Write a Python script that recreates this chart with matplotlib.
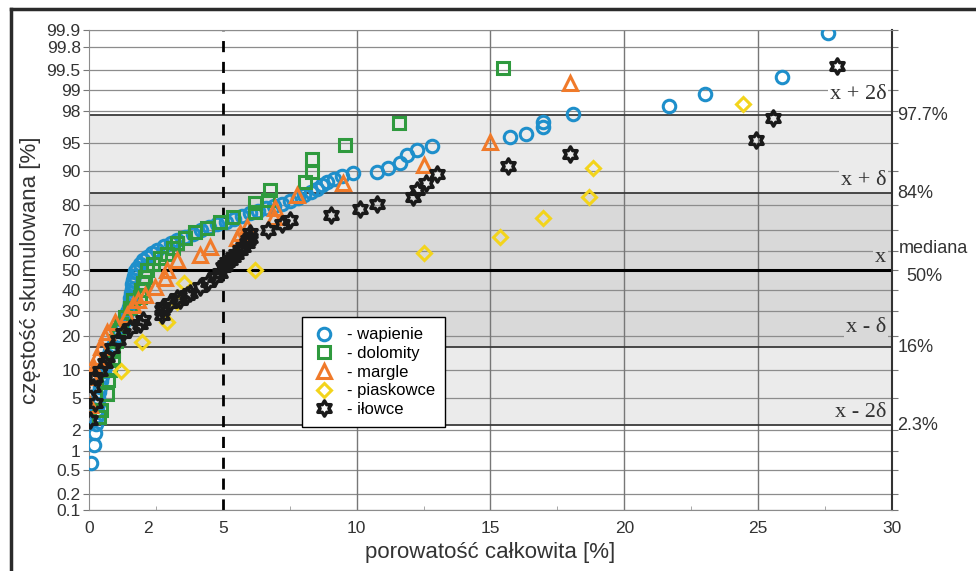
import numpy as np
import matplotlib.pyplot as plt
from matplotlib.path import Path
from matplotlib.lines import Line2D
from statistics import NormalDist

plt.rcParams['font.family'] = ['Liberation Sans', 'DejaVu Sans']

# porosity [%] and cumulative frequency [%]
wap_x = [0.08, 0.2, 0.22, 0.25, 0.28, 0.3, 0.32, 0.35, 0.38, 0.42, 0.46, 0.5, 0.55, 0.6,
         0.65, 0.72, 0.8, 0.88, 0.97, 1.05, 1.13, 1.22, 1.3, 1.37, 1.43, 1.48, 1.52, 1.55,
         1.58, 1.6, 1.62, 1.64, 1.67, 1.72, 1.8, 1.9, 2.0, 2.15, 2.35, 2.55, 2.8, 3.05, 3.3,
         3.6, 3.9, 4.2, 4.5, 4.8, 5.1, 5.4, 5.7, 6.0, 6.3, 6.6, 6.9, 7.2, 7.5, 7.8, 8.05,
         8.3, 8.5, 8.7, 8.9, 9.15, 9.45, 9.87, 10.77, 11.18, 11.63, 11.89, 12.26, 12.82,
         15.74, 16.34, 16.97, 16.97, 18.09, 21.68, 23.03, 25.9, 27.6]
wap_p = [0.66, 1.2, 1.8, 2.4, 3.0, 3.6, 4.2, 5.0, 5.8, 6.7, 7.6, 8.6, 9.6, 10.8,
         12.0, 13.4, 14.8, 16.4, 18.0, 19.8, 21.6, 23.5, 25.5, 27.5, 29.6, 31.8, 34.0, 36.2,
         38.4, 40.6, 42.8, 45.0, 47.2, 49.4, 51.4, 53.4, 55.2, 57.0, 58.8, 60.5, 62.2, 63.8, 65.3,
         66.8, 68.2, 69.6, 71.0, 72.3, 73.5, 74.7, 75.8, 76.8, 77.8, 78.7, 79.6, 80.5, 81.4, 82.3, 83.3,
         84.3, 85.3, 86.3, 87.2, 88.0, 88.8, 89.5, 89.7, 90.6, 91.6, 93.1, 93.9, 94.5,
         95.7, 96.1, 96.8, 97.2, 97.8, 98.3, 98.84, 99.36, 99.89]

dol_x = [0.37, 0.45, 0.67, 0.71, 0.8, 0.9, 0.9, 1.0, 1.08, 1.2, 1.35, 1.53, 1.64, 1.9, 1.95,
         2.02, 2.09, 2.17, 2.4, 2.65, 2.9, 3.14, 3.29, 3.6, 3.96, 4.41, 4.9, 5.38, 6.2, 6.2,
         6.69, 6.77, 8.07, 8.34, 8.34, 9.57, 11.59, 15.48]
dol_p = [2.9, 3.6, 5.6, 7.8, 10.0, 12.5, 15.0, 18.0, 21.9, 24.5, 27.2, 31.2, 34.9, 36.4, 40.0,
         43.3, 46.4, 50.0, 53.0, 56.2, 58.5, 61.2, 63.6, 66.0, 68.8, 70.6, 73.2, 75.3, 77.3, 80.6,
         81.7, 84.9, 87.2, 89.7, 92.4, 94.7, 97.1, 99.54]

mar_x = [0.05, 0.11, 0.2, 0.3, 0.45, 0.6, 0.67, 0.97, 1.42, 1.64, 1.83, 2.09, 2.47, 2.84, 2.92,
         3.29, 4.15, 4.52, 5.53, 5.64, 5.9, 6.9, 6.95, 7.78, 9.5, 12.52, 14.99, 17.98]
mar_p = [4.1, 8.4, 10.5, 13.1, 16.0, 19.4, 21.2, 25.1, 28.1, 32.6, 35.0, 37.5, 41.3, 45.9, 50.0,
         55.1, 57.7, 61.7, 66.0, 68.3, 71.0, 75.3, 78.8, 83.3, 86.9, 91.2, 95.1, 99.2]

pia_x = [1.2, 1.98, 2.92, 3.3, 3.55, 6.2, 12.52, 15.36, 16.97, 18.69, 18.84, 24.45]
pia_p = [9.8, 17.6, 25.1, 34.0, 43.5, 50.0, 58.7, 66.5, 74.9, 82.7, 90.6, 98.4]

ilo_x = [0.04, 0.22, 0.15, 0.22, 0.41, 0.6, 0.67, 0.86, 1.08, 1.27, 1.53, 1.9, 2.02, 2.73, 2.73,
         2.77, 3.03, 3.29, 3.4, 3.66, 3.78, 4.15, 4.45, 4.71, 4.9, 5.0, 5.08, 5.16, 5.27, 5.38,
         5.5, 5.64, 5.77, 5.9, 5.95, 6.02, 6.02, 6.69, 7.21, 7.51, 9.05, 10.13, 10.77, 12.1,
         12.26, 12.6, 13.0, 15.66, 17.98, 24.93, 25.57, 27.96]
ilo_p = [2.65, 4.4, 6.6, 8.4, 9.8, 11.5, 13.1, 15.7, 18.4, 20.8, 22.7, 24.5, 26.0, 28.1, 30.3,
         31.7, 33.5, 36.0, 34.9, 37.4, 38.3, 41.3, 43.8, 46.4, 48.5, 51.5, 52.8, 54.1, 55.5, 56.7,
         58.5, 60.2, 62.0, 63.6, 65.0, 66.0, 68.3, 69.7, 72.4, 74.0, 76.1, 78.4, 80.3, 82.7,
         84.9, 86.9, 89.2, 91.0, 93.3, 95.3, 97.5, 99.57]

yticks = [0.1, 0.2, 0.5, 1, 2, 5, 10, 20, 30, 40, 50, 60, 70, 80, 90, 95, 98, 99, 99.5, 99.8, 99.9]
ytick_labels = ["0.1", "0.2", "0.5", "1", "2", "5", "10", "20", "30", "40", "50", "60", "70",
                "80", "90", "95", "98", "99", "99.5", "99.8", "99.9"]
xticks = [0, 2.2, 5, 10, 15, 20, 25, 30]
xtick_labels = ["0", "2", "5", "10", "15", "20", "25", "30"]

side_levels = [97.7, 84, 16, 2.3]
side_labels = ["97.7%", "84%", "16%", "2.3%"]
sigma_labels = ["x + 2\u03b4", "x + \u03b4", "x", "x - \u03b4", "x - 2\u03b4"]
sigma_levels = [98.84, 87.7, 56.7, 23.1, 3.35]

_nd = NormalDist()


def _ppf(v):
    if not np.isfinite(v):
        return np.nan
    return _nd.inv_cdf(min(max(v, 1e-9), 1 - 1e-9))


def prob_fwd(p):
    return np.vectorize(_ppf, otypes=[float])(np.asarray(p, dtype=float) / 100.0)


def prob_inv(z):
    return np.vectorize(_nd.cdf, otypes=[float])(np.asarray(z, dtype=float)) * 100.0


light = '#ebebeb'
dark = '#d9d9d9'

fig = plt.figure(figsize=(9.76, 5.71), dpi=100)
ax = fig.add_axes([0.0912, 0.1068, 0.8227, 0.8398])
ax.set_yscale('function', functions=(prob_fwd, prob_inv))
ax.set_xlim(0, 30)
ax.set_ylim(0.1, 99.9)

ax.axhspan(2.3, 16, color=light, zorder=0, lw=0)
ax.axhspan(16, 84, color=dark, zorder=0, lw=0)
ax.axhspan(84, 97.7, color=light, zorder=0, lw=0)
for t in yticks:
    ax.axhline(t, color='#8c8c8c', lw=0.9, zorder=1)
for lv in side_levels:
    ax.axhline(lv, color='#3a3a3a', lw=1.3, zorder=1.5)
ax.axhline(50, color='black', lw=2.2, zorder=1.5)
for v in [10, 15, 20, 25]:
    ax.axvline(v, color='#777777', lw=1, zorder=1)
ax.axvline(5, color='black', lw=2, ls=(0, (4, 3.5)), zorder=1.6)

star6 = Path.unit_regular_star(6, 0.577)
kw = dict(ls='none', mfc='none', zorder=3)
ax.plot(wap_x, wap_p, marker='o', ms=9, mew=2.2, mec='#1e8fcb', label='- wapienie', **kw)
ax.plot(dol_x, dol_p, marker='s', ms=8.5, mew=2.2, mec='#2f9a3e', label='- dolomity', **kw)
ax.plot(mar_x, mar_p, marker='^', ms=10, mew=2.2, mec='#f07a2a', label='- margle', **kw)
ax.plot(pia_x, pia_p, marker='D', ms=7.5, mew=2.2, mec='#f3d41c', label='- piaskowce', **kw)
ax.plot(ilo_x, ilo_p, marker=star6, ms=11, mew=2.5, mec='#1a1a1a', label='- iłowce', **kw)

ax.set_yticks(yticks)
ax.set_yticklabels(ytick_labels)
ax.yaxis.set_minor_locator(plt.NullLocator())
ax.set_xticks(xticks)
ax.set_xticklabels(xtick_labels)
ax.set_xticks(np.arange(2.5, 30, 5), minor=True)
ax.tick_params(axis='y', which='major', length=4, color='#777777', labelcolor='#333333',
               labelsize=12.5, pad=2, right=True)
ax.tick_params(axis='x', which='major', length=0, labelcolor='#333333', labelsize=12.5, pad=8)
ax.tick_params(axis='x', which='minor', length=3, color='#999999', direction='in')

for side in ['left', 'bottom', 'top']:
    ax.spines[side].set_color('#8c8c8c')
ax.spines['right'].set_color('#333333')
ax.spines['right'].set_linewidth(1.5)

ax.set_xlabel("porowatość całkowita [%]", fontsize=16, color='#333333', labelpad=4)
ax.set_ylabel("częstość skumulowana [%]", fontsize=16, color='#333333', labelpad=4)

tr = ax.get_yaxis_transform()
for lab, lv in zip(side_labels, side_levels):
    ax.annotate(lab, xy=(1.0, lv), xycoords=tr, xytext=(4, 0), textcoords='offset points',
                ha='left', va='center', fontsize=13, color='#333333', annotation_clip=False)
ax.annotate("mediana", xy=(1.0, 50), xycoords=tr, xytext=(5, 16), textcoords='offset points',
            ha='left', va='center', fontsize=13, color='#333333', annotation_clip=False)
ax.annotate("50%", xy=(1.0, 50), xycoords=tr, xytext=(10, -4.5), textcoords='offset points',
            ha='left', va='center', fontsize=13, color='#333333', annotation_clip=False)

sigma_bg = ['white', light, dark, dark, light]
for lab, lv, bg in zip(sigma_labels, sigma_levels, sigma_bg):
    ax.text(0.993, lv, lab, transform=tr, ha='right', va='center', fontsize=16,
            family=['Liberation Serif', 'DejaVu Serif'], color='#333333', zorder=2,
            bbox=dict(facecolor=bg, edgecolor='none', pad=1.5))

leg = ax.legend(loc='lower left', bbox_to_anchor=(0.265, 0.173), borderaxespad=0,
                fancybox=False, edgecolor='black', framealpha=1, fontsize=12,
                handlelength=1.5, handletextpad=0.6, labelspacing=0.22, borderpad=0.6)
leg.get_frame().set_linewidth(1)
leg.set_zorder(5)

fig.add_artist(Line2D([0.0113, 0.0113], [0, 0.984], transform=fig.transFigure,
                      color='#2a2a2a', lw=2.5))
fig.add_artist(Line2D([0.0113, 1], [0.984, 0.984], transform=fig.transFigure,
                      color='#2a2a2a', lw=2.5))

fig.savefig("out.png", dpi=100)
